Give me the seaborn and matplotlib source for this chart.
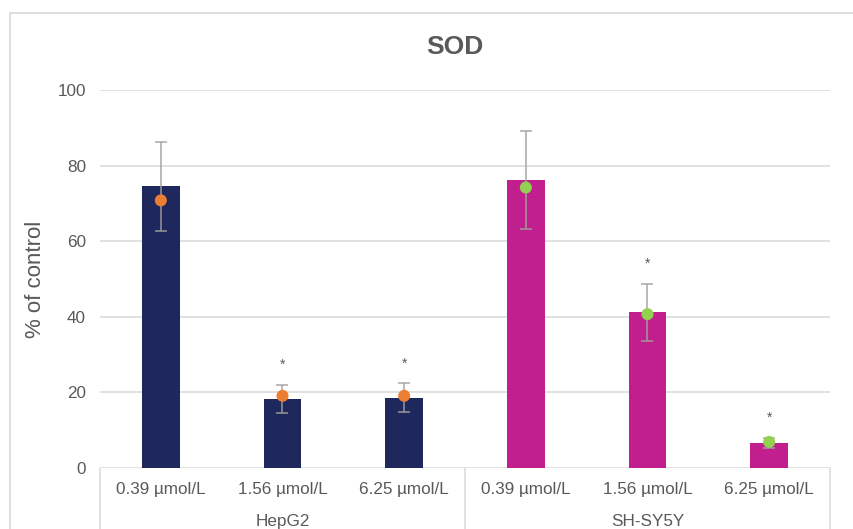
import matplotlib
matplotlib.use("Agg")
import matplotlib.pyplot as plt
import matplotlib.transforms as mtransforms
from matplotlib.lines import Line2D
import seaborn as sns
import pandas as pd

# ---- data ----
groups = ["HepG2", "HepG2", "HepG2", "SH-SY5Y", "SH-SY5Y", "SH-SY5Y"]
concs = ["0.39 µmol/L", "1.56 µmol/L", "6.25 µmol/L",
         "0.39 µmol/L", "1.56 µmol/L", "6.25 µmol/L"]
means = [74.5, 18.3, 18.6, 76.1, 41.2, 6.7]
errors = [11.7, 3.7, 3.8, 13.0, 7.6, 1.3]
points = [70.8, 19.1, 19.1, 74.2, 40.7, 6.9]
significant = [False, True, True, False, True, True]
group_names = ["HepG2", "SH-SY5Y"]
yticks = [0, 20, 40, 60, 80, 100]

bar_colors = {"HepG2": "#1F285C", "SH-SY5Y": "#C21F8E"}
dot_colors = {"HepG2": "#ED7D31", "SH-SY5Y": "#92D050"}

df = pd.DataFrame({
    "cond": [f"{g}|{c}" for g, c in zip(groups, concs)],
    "group": groups,
    "conc": concs,
    "mean": means,
    "err": errors,
    "point": points,
})

sns.set_style("white")
plt.rcParams["font.family"] = ["Liberation Sans", "DejaVu Sans"]

W, H = 854, 529
fig = plt.figure(figsize=(W / 100, H / 100), dpi=100)
ax = fig.add_axes([100 / W, (H - 468) / H, 730 / W, 378 / H])

grid_c = "#D9D9D9"
text_c = "#595959"

for yv in yticks:
    ax.axhline(yv, color=grid_c, lw=1.1, zorder=0)

sns.barplot(data=df, x="cond", y="mean", hue="group", palette=bar_colors,
            order=list(df["cond"]), width=0.31, dodge=False, errorbar=None,
            saturation=1, legend=False, ax=ax, linewidth=0, zorder=2)

xs = list(range(len(df)))
ax.errorbar(xs, df["mean"], yerr=df["err"], fmt="none", ecolor="#A0A0A0",
            elinewidth=1.2, capsize=4, capthick=1.2, alpha=0.85, zorder=3)

sns.scatterplot(x=xs, y=df["point"], hue=df["group"].values, palette=dot_colors,
                s=75, edgecolor="none", legend=False, ax=ax, zorder=4)

for x, m, e, s in zip(xs, means, errors, significant):
    if s:
        ax.text(x, m + e + 5.3, "*", ha="center", va="center", fontsize=10,
                color=text_c, zorder=5)

ax.set_xlim(-0.5, len(df) - 0.5)
ax.set_ylim(0, 100)
ax.set_yticks(yticks)
ax.set_yticklabels([str(v) for v in yticks], fontsize=12.3, color=text_c)
ax.set_xticks(xs)
ax.set_xticklabels(concs, fontsize=12.3, color=text_c)
ax.tick_params(axis="both", length=0)
ax.tick_params(axis="y", pad=10)
ax.tick_params(axis="x", pad=10)
ax.set_xlabel("")
ax.set_ylabel("% of control", fontsize=16, color=text_c, labelpad=8)
for sp in ax.spines.values():
    sp.set_visible(False)

# group labels and separators
trans = mtransforms.blended_transform_factory(ax.transData, ax.transAxes)
for i, gname in enumerate(group_names):
    ax.text(3 * i + 1, -0.142, gname, transform=trans, ha="center",
            va="center", fontsize=12.3, color=text_c)
for xv in [-0.5, 2.5, 5.5]:
    ax.add_line(Line2D([xv, xv], [0, -0.25], transform=trans, color=grid_c,
                       lw=1.1, clip_on=False))

# title
fig.text(455 / W, 1 - 46.5 / H, "SOD", ha="center", va="center", fontsize=19,
         fontweight="bold", color=text_c)

# outer chart frame (partially visible)
fig.add_artist(Line2D([10 / W, 1.0], [1 - 13 / H, 1 - 13 / H],
                      transform=fig.transFigure, color=grid_c, lw=1.2))
fig.add_artist(Line2D([10 / W, 10 / W], [0, 1 - 13 / H],
                      transform=fig.transFigure, color=grid_c, lw=1.2))

fig.savefig("out.png", dpi=100)
